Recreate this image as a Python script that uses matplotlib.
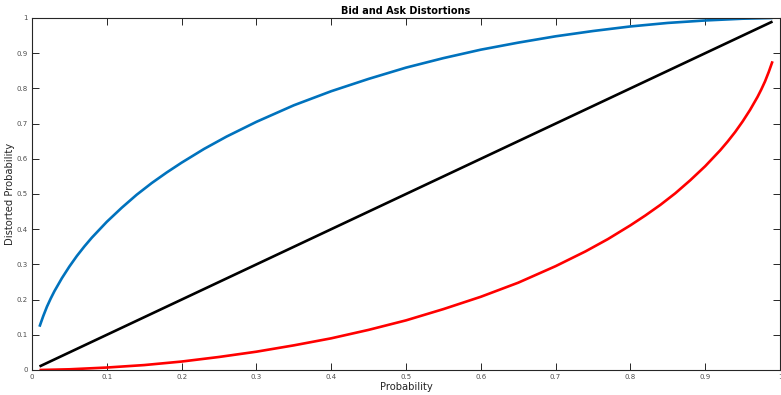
import matplotlib
matplotlib.use("Agg")
import matplotlib.pyplot as plt

# Ask distortion (blue, concave)
ask_x = [0.01, 0.015, 0.02, 0.025, 0.03, 0.04, 0.05, 0.06, 0.07, 0.08, 0.10, 0.12, 0.14,
         0.16, 0.18, 0.20, 0.23, 0.26, 0.30, 0.35, 0.40, 0.45, 0.50, 0.55, 0.60, 0.65,
         0.70, 0.75, 0.80, 0.85, 0.90, 0.95, 0.99]
ask_y = [0.123, 0.153, 0.180, 0.203, 0.224, 0.261, 0.294, 0.324, 0.351, 0.376, 0.421, 0.461,
         0.498, 0.531, 0.561, 0.589, 0.628, 0.663, 0.705, 0.752, 0.792, 0.827, 0.859, 0.886,
         0.910, 0.930, 0.948, 0.963, 0.976, 0.986, 0.993, 0.998, 1.000]

# Bid distortion (red, convex)
bid_x = [0.01, 0.05, 0.10, 0.15, 0.20, 0.25, 0.30, 0.35, 0.40, 0.45, 0.50, 0.55, 0.60,
         0.65, 0.70, 0.74, 0.77, 0.80, 0.82, 0.84, 0.86, 0.88, 0.90, 0.92, 0.93, 0.94,
         0.95, 0.96, 0.97, 0.975, 0.98, 0.985, 0.99]
bid_y = [0.000, 0.002, 0.007, 0.014, 0.024, 0.037, 0.052, 0.070, 0.090, 0.114, 0.141, 0.173,
         0.208, 0.248, 0.295, 0.337, 0.372, 0.411, 0.439, 0.469, 0.502, 0.539, 0.579, 0.624,
         0.649, 0.676, 0.706, 0.739, 0.776, 0.797, 0.820, 0.847, 0.877]

# Identity (black)
id_x = [0.01, 0.99]
id_y = [0.01, 0.99]

ticks = [0, 0.1, 0.2, 0.3, 0.4, 0.5, 0.6, 0.7, 0.8, 0.9, 1]
tick_labels = ["0", "0.1", "0.2", "0.3", "0.4", "0.5", "0.6", "0.7", "0.8", "0.9", "1"]

fig = plt.figure(figsize=(7.81, 3.95), dpi=100)
ax = fig.add_axes([32/781, 1 - 370/395, 748/781, 352/395])

ax.plot(ask_x, ask_y, color="#0072BD", lw=1.9, solid_capstyle="butt")
ax.plot(id_x, id_y, color="black", lw=1.9, solid_capstyle="butt")
ax.plot(bid_x, bid_y, color="#FF0000", lw=1.9, solid_capstyle="butt")

ax.set_xlim(0, 1)
ax.set_ylim(0, 1)
ax.set_xticks(ticks)
ax.set_xticklabels(tick_labels)
ax.set_yticks(ticks)
ax.set_yticklabels(tick_labels)
ax.tick_params(direction="in", length=5, width=0.7, colors="#262626", labelsize=5,
               labelcolor="#4d4d4d", top=True, right=True, pad=3)
for s in ax.spines.values():
    s.set_color("#262626")
    s.set_linewidth(0.8)

ax.set_title("Bid and Ask Distortions", fontsize=7, fontweight="bold", pad=3)
ax.set_xlabel("Probability", fontsize=7.2, color="#262626", labelpad=1)
ax.set_ylabel("Distorted Probability", fontsize=7.2, color="#262626", labelpad=1)

fig.savefig("out.png", dpi=100)
